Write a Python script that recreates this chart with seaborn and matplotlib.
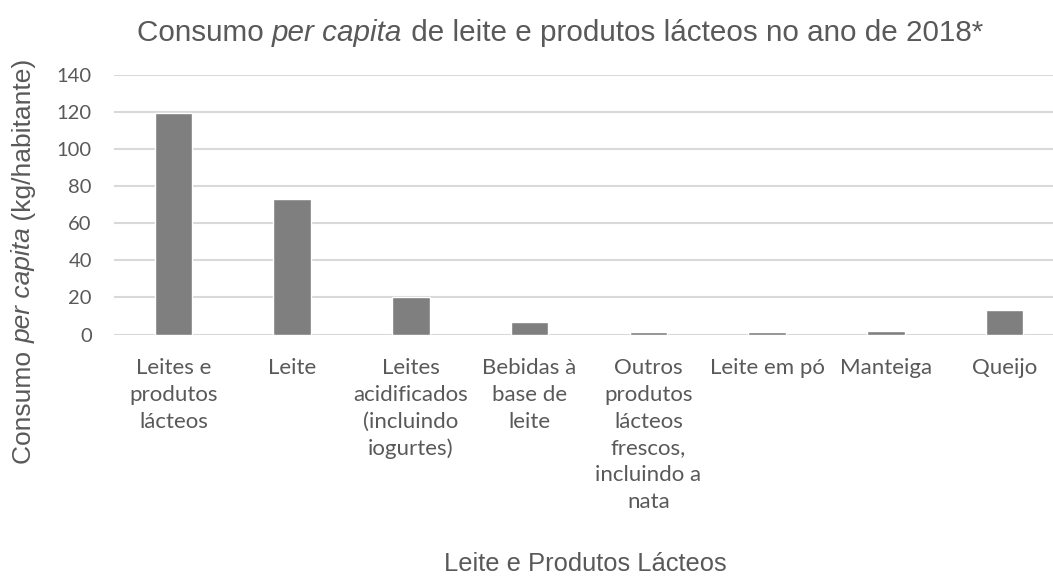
import matplotlib
matplotlib.use("Agg")
import matplotlib.pyplot as plt
import seaborn as sns
import pandas as pd

categorias = [
    "Leites e\nprodutos\nlácteos",
    "Leite",
    "Leites\nacidificados\n(incluindo\niogurtes)",
    "Bebidas à\nbase de\nleite",
    "Outros\nprodutos\nlácteos\nfrescos,\nincluindo a\nnata",
    "Leite em pó",
    "Manteiga",
    "Queijo",
]
consumo = [119.4, 73.2, 20.3, 6.5, 1.1, 1.4, 1.8, 13.1]
yticks = [0, 20, 40, 60, 80, 100, 120, 140]

titulo = [("Consumo ", "normal"), ("per capita", "italic"),
          (" de leite e produtos lácteos no ano de 2018*", "normal")]
rotulo_y = [("Consumo ", "normal"), ("per capita", "italic"),
            (" (kg/habitante)", "normal")]
rotulo_x = "Leite e Produtos Lácteos"

TXT = "#595959"
sns.set_theme(style="white")
plt.rcParams["font.family"] = ["Liberation Sans", "DejaVu Sans"]

W, H = 1053, 577
fig = plt.figure(figsize=(W / 100, H / 100), dpi=100)
ax = fig.add_axes([114 / W, 1 - 334.5 / H, (1064 - 114) / W, (334.5 - 75) / H])

df = pd.DataFrame({"cat": categorias, "val": consumo})
sns.barplot(data=df, x="cat", y="val", color="#7f7f7f", saturation=1,
            width=0.316, ax=ax, zorder=3)

ax.set_ylim(0, 140)
ax.set_yticks(yticks)
ax.set_xlim(-0.5, len(categorias) - 0.5)
for s in ax.spines.values():
    s.set_visible(False)
ax.yaxis.grid(True, color="#d9d9d9", linewidth=1.5, zorder=0)
ax.set_axisbelow(True)
ax.set_xlabel("")
ax.set_ylabel("")
ax.tick_params(axis="both", length=0, colors=TXT)
ax.tick_params(axis="y", pad=16)
ax.tick_params(axis="x", pad=17)
for lab in ax.get_yticklabels():
    lab.set_fontfamily(["Lato", "DejaVu Sans"])
    lab.set_fontsize(14.5)
for lab in ax.get_xticklabels():
    lab.set_fontfamily(["Lato", "DejaVu Sans"])
    lab.set_fontsize(16)
    lab.set_linespacing(1.42)
    lab.set_verticalalignment("top")
    lab.set_horizontalalignment("center")

renderer = fig.canvas.get_renderer()


def texto_misto(partes, x, y, size, rotation=0):
    """Draw a run of text pieces with mixed styles, centred at (x, y) in pixels."""
    objs = []
    for txt, style in partes:
        t = fig.text(0, 0, txt, fontsize=size, style=style, color=TXT,
                     rotation=0, ha="left", va="center",
                     rotation_mode="anchor")
        objs.append(t)
    widths = [t.get_window_extent(renderer).width for t in objs]
    total = sum(widths)
    pos = -total / 2
    for t, w in zip(objs, widths):
        t.set_rotation(rotation)
        if rotation == 90:
            t.set_position((x / W, (H - y + pos) / H))
        else:
            t.set_position(((x + pos) / W, (H - y) / H))
        pos += w


texto_misto(titulo, 560, 33, 21.3)
texto_misto(rotulo_y, 24, 261, 19, rotation=90)
fig.text(585 / W, 1 - 564 / H, rotulo_x, fontsize=18.4, color=TXT,
         ha="center", va="center")

fig.savefig("out.png", dpi=100, facecolor="white")
